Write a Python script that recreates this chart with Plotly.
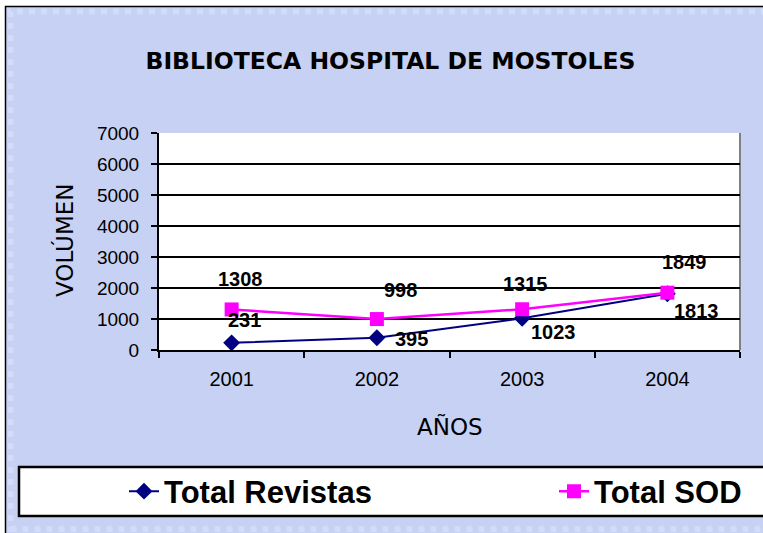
import plotly.graph_objects as go

years = ["2001", "2002", "2003", "2004"]
revistas = [231, 395, 1023, 1813]
sod = [1308, 998, 1315, 1849]

# desplazamiento de cada etiqueta respecto a su punto (px: derecha, arriba)
rev_shift = [(13, 23), (35, -1), (31, -14), (29, -17)]
sod_shift = [(9, 30), (24, 29), (3, 25), (17, 31)]

W, H = 763, 533
L, R, T, B = 159, 23, 133, 183
PW, PH = W - L - R, H - T - B


def px(x):
    return (x - L) / PW


def py(y):
    return (H - B - y) / PH


NAVY = "#000080"
MAGENTA = "#ff00ff"
SANS = "Liberation Sans, Arial, sans-serif"
COMIC = "DejaVu Sans, sans-serif"

fig = go.Figure()

fig.add_trace(go.Scatter(
    x=years, y=revistas, name="Total Revistas", mode="lines+markers",
    line=dict(color=NAVY, width=2),
    marker=dict(symbol="diamond", size=13, color=NAVY),
    legend="legend", showlegend=True,
))
fig.add_trace(go.Scatter(
    x=years, y=sod, name="Total SOD", mode="lines+markers",
    line=dict(color=MAGENTA, width=2.5),
    marker=dict(symbol="square", size=14, color=MAGENTA),
    legend="legend2", showlegend=True,
))

annotations = []
for vals, shifts in ((revistas, rev_shift), (sod, sod_shift)):
    for i, (v, (dx, dy)) in enumerate(zip(vals, shifts)):
        annotations.append(dict(
            x=i, y=v, xref="x", yref="y", text=f"<b>{v}</b>",
            showarrow=False, xshift=dx, yshift=dy,
            font=dict(family=SANS, size=20, color="black"),
        ))

annotations.append(dict(
    x=px(449.5), y=py(426.5), xref="paper", yref="paper", text="AÑOS",
    showarrow=False, xanchor="center", yanchor="middle",
    font=dict(family=COMIC, size=23, color="black"),
))
annotations.append(dict(
    x=px(64), y=py(240), xref="paper", yref="paper", text="VOLÚMEN",
    showarrow=False, xanchor="center", yanchor="middle", textangle=-90,
    font=dict(family=COMIC, size=23, color="black"),
))

shapes = [
    # fondo del gráfico
    dict(type="rect", xref="paper", yref="paper", layer="below",
         x0=px(5.5), x1=px(790), y0=py(560), y1=py(6.5),
         fillcolor="#c7d1f3", line=dict(color="black", width=1.5)),
    dict(type="rect", xref="paper", yref="paper", layer="below",
         x0=px(10.5), x1=px(790), y0=py(529), y1=py(11.5),
         fillcolor="rgba(0,0,0,0)", line=dict(color="#d0dcf8", width=6, dash="dot")),
    # área de trazado
    dict(type="rect", xref="paper", yref="paper", layer="below",
         x0=0, x1=1, y0=0, y1=1, fillcolor="white", line=dict(width=0)),
    dict(type="line", xref="paper", yref="paper", layer="below",
         x0=1, x1=1, y0=0, y1=1, line=dict(color="#808080", width=2)),
    # caja de la leyenda
    dict(type="rect", xref="paper", yref="paper", layer="below",
         x0=px(19), x1=px(800), y0=py(516), y1=py(467),
         fillcolor="white", line=dict(color="black", width=2.5)),
]

legend_style = dict(
    xref="container", yref="container", y=1 - 491.5 / H,
    xanchor="left", yanchor="middle",
    bgcolor="rgba(0,0,0,0)", borderwidth=0,
    font=dict(family=SANS, size=31, color="black", weight="bold"),
)

fig.update_layout(
    width=W, height=H,
    showlegend=True,
    margin=dict(l=L, r=R, t=T, b=B, autoexpand=False),
    paper_bgcolor="white",
    plot_bgcolor="rgba(0,0,0,0)",
    title=dict(
        text="<b>BIBLIOTECA HOSPITAL DE MOSTOLES</b>",
        x=390.5 / W, y=1 - 61 / H, xref="container", yref="container",
        xanchor="center", yanchor="middle",
        font=dict(family=COMIC, size=23.5, color="black"),
    ),
    xaxis=dict(
        type="category", range=[-0.5, 3.5], tickson="boundaries",
        ticks="outside", ticklen=6, tickwidth=2, tickcolor="black",
        showline=True, linecolor="black", linewidth=2, showgrid=False,
        tickfont=dict(family=SANS, size=20, color="black"),
        ticklabelstandoff=10, automargin=False,
    ),
    yaxis=dict(
        range=[0, 7000], dtick=1000, tickformat="d",
        ticks="outside", ticklen=6, tickwidth=2, tickcolor="black",
        showline=True, linecolor="black", linewidth=2,
        showgrid=True, gridcolor="black", gridwidth=2, zeroline=False,
        tickfont=dict(family=SANS, size=19, color="black"),
        ticklabelstandoff=8, automargin=False,
    ),
    legend=dict(x=124 / W, **legend_style),
    legend2=dict(x=554 / W, **legend_style),
    annotations=annotations,
    shapes=shapes,
)

fig.write_html("out.html", config={"displayModeBar": False},
               post_script="document.body.style.margin='0';")
